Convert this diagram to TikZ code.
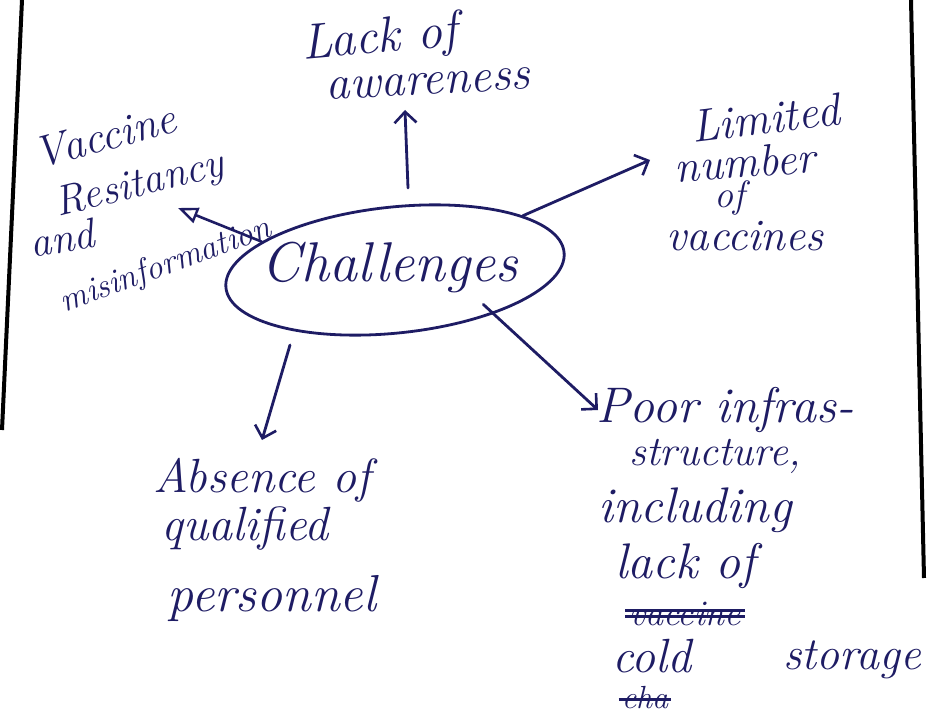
\documentclass[tikz,border=0pt]{standalone}
\usetikzlibrary{arrows.meta,shapes.geometric}
\definecolor{ink}{RGB}{30,28,100}
\newcommand{\fsz}[1]{\fontsize{#1}{#1}\selectfont\itshape}
\begin{document}
\begin{tikzpicture}[x=1pt,y=-1pt,
  hw/.style={text=ink, inner sep=0pt, anchor=center},
  arr/.style={draw=ink, line width=2.8pt, line cap=round, -{Straight Barb[length=11pt,width=22pt,line width=2.6pt]}},
  tri/.style={draw=ink, line width=2.6pt, line cap=round, -{Triangle[open,length=20pt,width=16pt,line width=2.4pt]}},
  border/.style={draw=black, line width=4pt}]
\useasboundingbox (0,0) rectangle (929,722);
\fill[white] (0,0) rectangle (929,722);
% page borders
\coordinate (bl1) at (22,0); \coordinate (bl2) at (2,430);
\coordinate (br1) at (911,0); \coordinate (br2) at (924,578);
\draw[border] (bl1) -- (bl2);
\draw[border] (br1) -- (br2);
% centre
\node[ellipse, draw=ink, line width=2.8pt, minimum width=340pt, minimum height=126pt, rotate=6] (Ch) at (395,270) {};
\node[hw, font=\fsz{56}] (cht) at (390,267) {Challenges};
% top
\node[hw, font=\fsz{50}, rotate=5] (lack) at (380,40) {Lack of};
\node[hw, font=\fsz{48}, rotate=3] (aware) at (428,84) {awareness};
% left
\node[hw, font=\fsz{44}, rotate=15] (vac) at (105,136) {Vaccine};
\node[hw, font=\fsz{42}, rotate=14] (res) at (140,186) {Resitancy};
\node[hw, font=\fsz{42}, rotate=10] (and) at (62,238) {and};
\node[hw, font=\fsz{34}, rotate=20] (mis) at (166,266) {misinformation};
% right
\node[hw, font=\fsz{46}, rotate=7] (lim) at (765,118) {Limited};
\node[hw, font=\fsz{45}, rotate=4] (num) at (745,162) {number};
\node[hw, font=\fsz{38}] (ofr) at (730,198) {of};
\node[hw, font=\fsz{45}] (vcs) at (745,236) {vaccines};
% bottom left
\node[hw, font=\fsz{48}] (abs) at (262,480) {Absence of};
\node[hw, font=\fsz{48}] (qua) at (245,528) {qualified};
\node[hw, font=\fsz{52}] (per) at (272,598) {personnel};
% bottom right
\node[hw, font=\fsz{50}] (poor) at (725,410) {Poor infras-};
\node[hw, font=\fsz{42}] (str) at (715,456) {structure,};
\node[hw, font=\fsz{50}] (inc) at (695,510) {including};
\node[hw, font=\fsz{50}] (lko) at (685,566) {lack of};
\node[hw, font=\fsz{36}] (vst) at (685,614) {vaccine};
\draw[ink, line width=3pt] ([xshift=-4pt,yshift=-2pt]vst.west) -- ([xshift=4pt,yshift=-2pt]vst.east);
\draw[ink, line width=3pt] ([xshift=-4pt,yshift=4pt]vst.west) -- ([xshift=4pt,yshift=4pt]vst.east);
\node[hw, font=\fsz{48}] (cold) at (652,656) {cold};
\node[hw, font=\fsz{46}] (stor) at (852,660) {storage};
\node[hw, font=\fsz{32}] (cha) at (645,698) {cha};
\draw[ink, line width=3pt] ([xshift=-3pt,yshift=-1pt]cha.west) -- ([xshift=3pt,yshift=-1pt]cha.east);
% arrows
\coordinate (a1s) at (408,188); \coordinate (a1e) at (405,110);
\draw[arr] (a1s) -- (a1e);
\coordinate (a2e) at (650,160);
\draw[arr] (Ch.17) -- (a2e);
\coordinate (a3s) at (290,345); \coordinate (a3e) at (262,440);
\draw[arr] (a3s) -- (a3e);
\coordinate (a4e) at (598,410);
\draw[arr, shorten <=-14pt] (Ch.-30) -- (a4e);
\coordinate (a5e) at (178,208);
\draw[tri] (Ch.162) -- (a5e);
\end{tikzpicture}
\end{document}
